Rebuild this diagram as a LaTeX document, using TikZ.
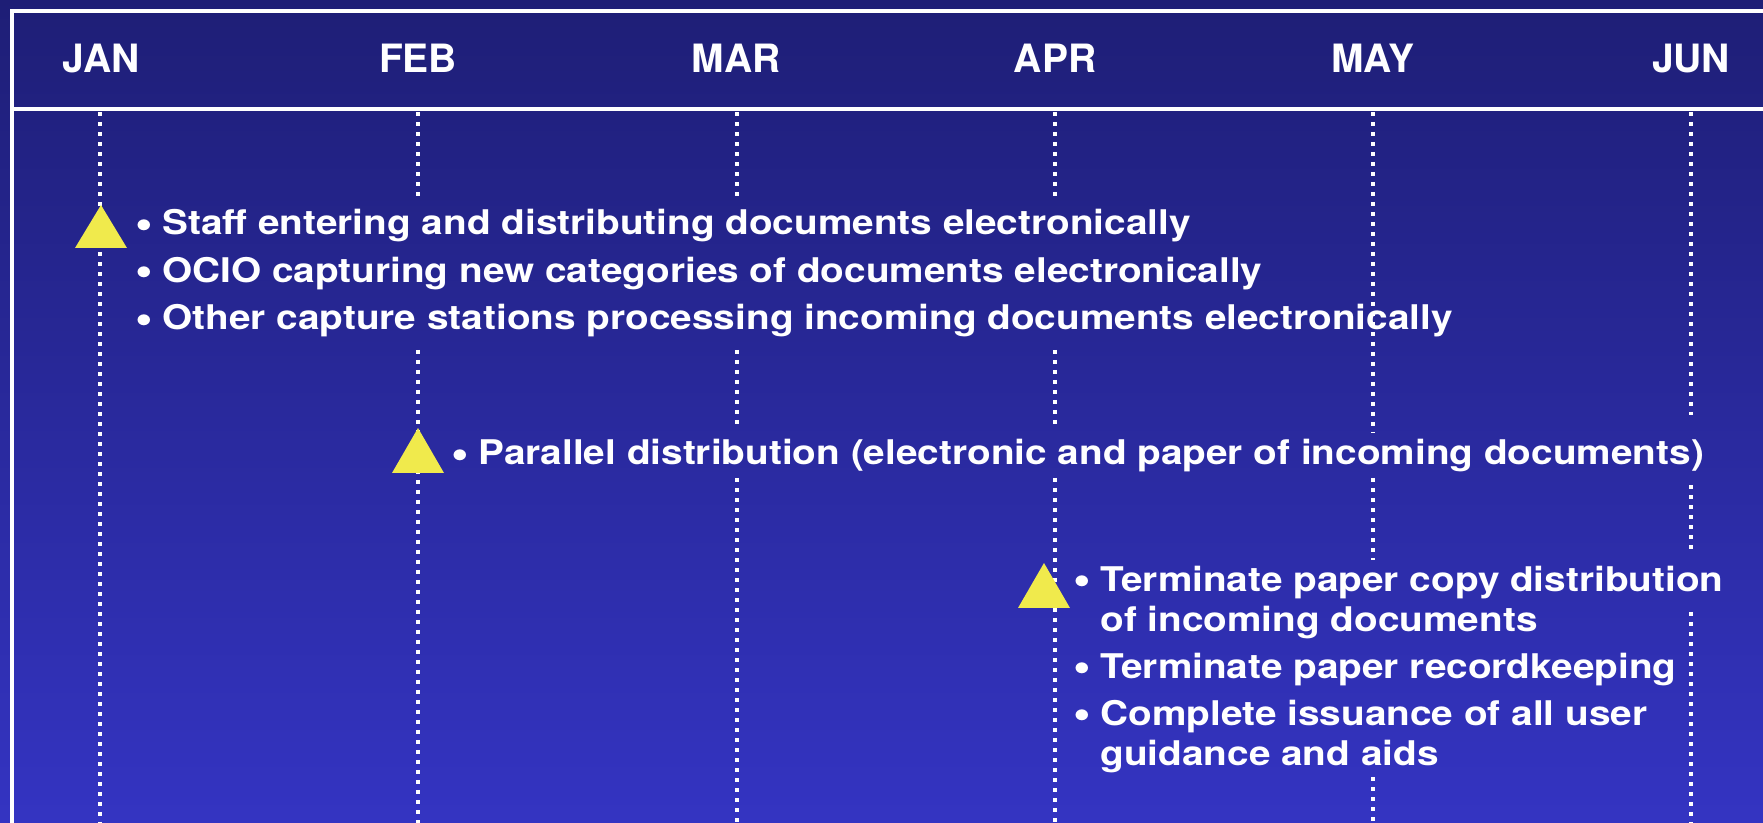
\documentclass[tikz,border=0pt]{standalone}
\usepackage{fontspec}
\setmainfont{TeX Gyre Heros}
\newfontfamily\bodyfont{TeX Gyre Heros}[FakeStretch=1.14]
\definecolor{navytop}{RGB}{30,30,118}
\definecolor{navybot}{RGB}{52,52,194}
\definecolor{marker}{RGB}{240,234,76}
\newcommand\bul{\makebox[13.5pt][l]{\raisebox{-1.6pt}{\fontsize{22}{20}\selectfont\textbullet}}}
\begin{document}
\begin{tikzpicture}[x=0.5pt,y=-0.5pt,
  frame/.style={draw=white,line width=2pt},
  gridline/.style={draw=white,line width=2.1pt,dash pattern=on 2.1pt off 2.9pt},
  month/.style={text=white,font=\fontsize{19.5}{23}\selectfont\bfseries,anchor=base,inner sep=0pt},
  items/.style={text=white,font=\bodyfont\fontsize{17}{20}\selectfont\bfseries,align=left,anchor=base west,inner sep=0pt},
  milestone/.style={fill=marker,draw=none}]
\useasboundingbox (0,0) rectangle (1763,823);
% background
\shade[top color=navytop,bottom color=navybot] (0,0) rectangle (1763,823);

% monthly grid lines, broken where the text boxes sit
\foreach \x/\ya/\yb in {100/112/823,
  418/112/201, 418/350/823,
  737/112/201, 737/350/428, 737/478/823,
  1055/112/201, 1055/350/428, 1055/478/823,
  1373/112/433, 1373/478/560, 1373/777/823,
  1691/112/415, 1691/485/553, 1691/612/823}
  \draw[gridline] (\x,\ya) -- (\x,\yb);

% frame and header band
\draw[frame] (1780,11.5) -- (12,11.5) -- (12,840);
\draw[frame] (12,109.5) -- (1780,109.5);

% month labels
\node[month] (mjan) at (101,73) {JAN};
\node[month] (mfeb) at (418,73) {FEB};
\node[month] (mmar) at (736,73) {MAR};
\node[month] (mapr) at (1055,73) {APR};
\node[month] (mmay) at (1373,73) {MAY};
\node[month] (mjun) at (1691,73) {JUN};

% milestones
\fill[milestone] (101,205) -- (127,248) -- (75,248) -- cycle;
\fill[milestone] (418,428) -- (444,473) -- (392,473) -- cycle;
\fill[milestone] (1044,563) -- (1070,608) -- (1018,608) -- cycle;

% milestone descriptions (anchored on the baseline of their last line)
\node[items] (tjan) at (135,330) {\bul Staff entering and distributing documents electronically\\[3.75pt]
\bul OCIO capturing new categories of documents electronically\\[3.75pt]
\bul Other capture stations processing incoming documents electronically};
\node[items] (tfeb) at (451,465) {\bul Parallel distribution (electronic and paper of incoming documents)};
\node[items] (tapr) at (1073,765) {\bul Terminate paper copy distribution\\
\hspace*{13.5pt}of incoming documents\\[3.5pt]
\bul Terminate paper recordkeeping\\[3.5pt]
\bul Complete issuance of all user\\
\hspace*{13.5pt}guidance and aids};
\end{tikzpicture}
\end{document}
